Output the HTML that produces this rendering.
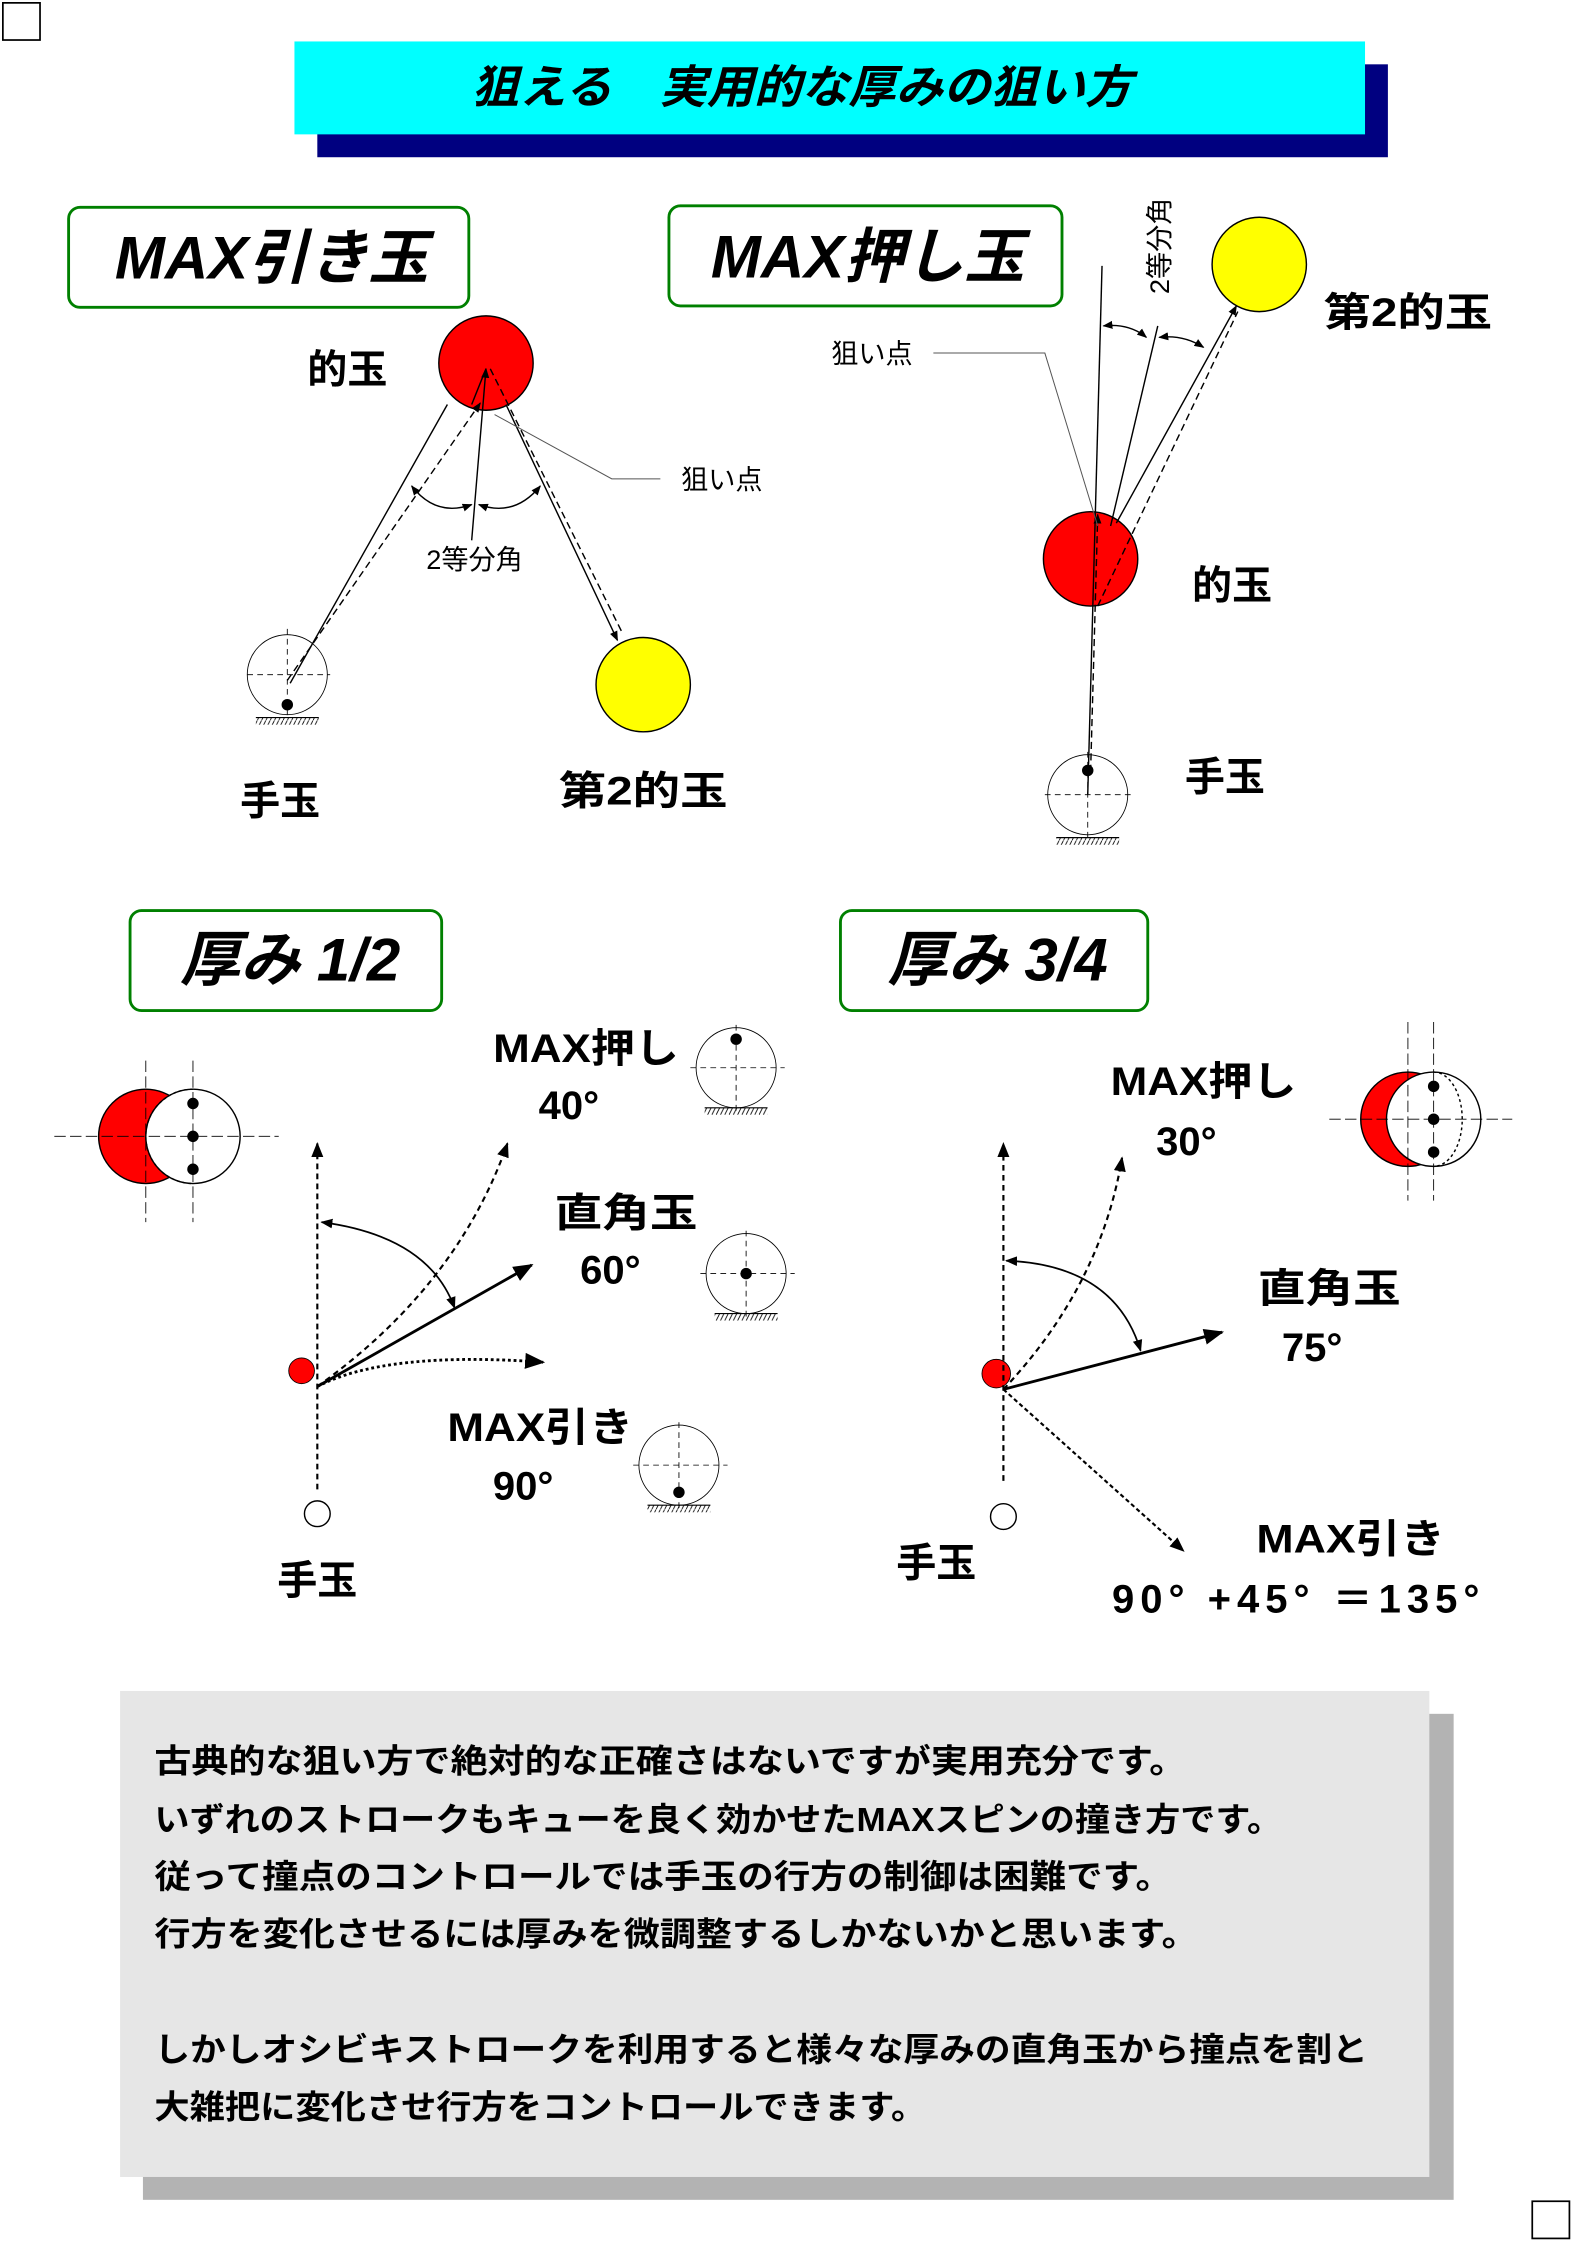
<!DOCTYPE html>
<html><head><meta charset="utf-8"><style>
html,body{margin:0;padding:0;background:#fff}
svg{display:block}
text{font-family:"Liberation Sans","Noto Sans CJK JP",sans-serif}
.b{font-weight:bold}
</style></head><body>
<svg width="1578" height="2247" viewBox="0 0 1104 1572" preserveAspectRatio="none" xmlns="http://www.w3.org/2000/svg">
<defs>
<marker id="a" viewBox="0 0 10 10" refX="9" refY="5" markerWidth="7" markerHeight="7" orient="auto-start-reverse"><path d="M0,1 L10,5 L0,9 z" fill="#000"/></marker>
<pattern id="h" width="3" height="6" patternUnits="userSpaceOnUse"><path d="M0,6 L3,0" stroke="#000" stroke-width="0.6"/></pattern>
</defs>
<rect x="2" y="2" width="26" height="26" fill="none" stroke="#000" stroke-width="1.2"/>
<rect x="1072" y="1540" width="26" height="26" fill="none" stroke="#000" stroke-width="1.2"/>
<!-- title -->
<rect x="222" y="45" width="749" height="65" fill="#000080"/>
<rect x="206" y="29" width="749" height="65" fill="#00ffff"/>
<text x="330" y="72" font-size="32" class="b" font-style="italic" textLength="462" lengthAdjust="spacingAndGlyphs">狙える　実用的な厚みの狙い方</text>
<!-- boxes -->
<rect x="48" y="145" width="280" height="70" rx="8" fill="#fff" stroke="#008000" stroke-width="2"/>
<text x="190" y="195" font-size="42" class="b" font-style="italic" text-anchor="middle">MAX引き玉</text>
<rect x="468" y="144" width="275" height="70" rx="8" fill="#fff" stroke="#008000" stroke-width="2"/>
<text x="607" y="194" font-size="42" class="b" font-style="italic" text-anchor="middle">MAX押し玉</text>
<rect x="91" y="637" width="218" height="70" rx="8" fill="#fff" stroke="#008000" stroke-width="2"/>
<text x="203" y="686" font-size="42" class="b" font-style="italic" text-anchor="middle">厚み 1/2</text>
<rect x="588" y="637" width="215" height="70" rx="8" fill="#fff" stroke="#008000" stroke-width="2"/>
<text x="698" y="686" font-size="42" class="b" font-style="italic" text-anchor="middle">厚み 3/4</text>

<!-- left diagram -->
<circle cx="340" cy="254" r="33" fill="#f00" stroke="#000"/>
<circle cx="450" cy="479" r="33" fill="#ff0" stroke="#000"/>
<circle cx="201" cy="472" r="28" fill="none" stroke="#000" stroke-width="0.6"/>
<path d="M173,472 H231 M201,440 V503" stroke="#000" stroke-width="0.6" stroke-dasharray="4,3"/>
<circle cx="201" cy="493" r="4" fill="#000"/>
<rect x="179" y="502" width="44" height="5" fill="url(#h)"/><line x1="179" y1="502" x2="223" y2="502" stroke="#000" stroke-width="0.8"/>
<g stroke="#000" fill="none" stroke-width="1">
<line x1="203" y1="478" x2="313" y2="283"/>
<line x1="201" y1="476" x2="336" y2="282" stroke-dasharray="5,3" marker-end="url(#a)"/>
<line x1="354" y1="283" x2="432" y2="448" marker-end="url(#a)"/>
<line x1="343" y1="258" x2="436" y2="444" stroke-dasharray="5,3"/>
<line x1="330" y1="378" x2="340" y2="258" marker-end="url(#a)"/>
<line x1="340" y1="258" x2="330" y2="283"/>
<path d="M288,340 Q305,362 330,353" marker-start="url(#a)" marker-end="url(#a)"/>
<path d="M335,353 Q360,362 378,340" marker-start="url(#a)" marker-end="url(#a)"/>
<polyline points="346,290 428,335 462,335" stroke-width="0.7" stroke="#555"/>
</g>
<text x="243" y="268" font-size="28" class="b" text-anchor="middle">的玉</text>
<text x="196" y="570" font-size="28" class="b" text-anchor="middle">手玉</text>
<text x="450" y="563" font-size="28" class="b" text-anchor="middle" textLength="118" lengthAdjust="spacingAndGlyphs">第2的玉</text>
<text x="505" y="342" font-size="19" text-anchor="middle">狙い点</text>
<text x="332" y="398" font-size="19" text-anchor="middle">2等分角</text>

<!-- right diagram -->
<circle cx="763" cy="391" r="33" fill="#f00" stroke="#000"/>
<circle cx="881" cy="185" r="33" fill="#ff0" stroke="#000"/>
<circle cx="761" cy="556" r="28" fill="none" stroke="#000" stroke-width="0.6"/>
<path d="M731,556 H793 M761,526 V588" stroke="#000" stroke-width="0.6" stroke-dasharray="4,3"/>
<circle cx="761" cy="539" r="4" fill="#000"/>
<rect x="739" y="586" width="44" height="5" fill="url(#h)"/><line x1="739" y1="586" x2="783" y2="586" stroke="#000" stroke-width="0.8"/>
<g stroke="#000" fill="none" stroke-width="1">
<line x1="761" y1="556" x2="771" y2="186"/>
<line x1="777" y1="368" x2="810" y2="228"/>
<line x1="781" y1="366" x2="865" y2="214" marker-end="url(#a)"/>
<line x1="763" y1="540" x2="768" y2="360" stroke-dasharray="5,3" marker-end="url(#a)"/>
<line x1="768" y1="424" x2="866" y2="218" stroke-dasharray="5,3"/>
<path d="M772,228 Q790,226 802,236" marker-start="url(#a)" marker-end="url(#a)"/>
<path d="M811,236 Q828,234 842,243" marker-start="url(#a)" marker-end="url(#a)"/>
<polyline points="653,247 731,247 768,368" stroke-width="0.7" stroke="#555"/>
</g>
<text x="610" y="254" font-size="19" text-anchor="middle">狙い点</text>
<text transform="translate(818,172) rotate(-90)" font-size="19" text-anchor="middle">2等分角</text>
<text x="985" y="228" font-size="28" class="b" text-anchor="middle" textLength="118" lengthAdjust="spacingAndGlyphs">第2的玉</text>
<text x="862" y="419" font-size="28" class="b" text-anchor="middle">的玉</text>
<text x="857" y="553" font-size="28" class="b" text-anchor="middle">手玉</text>

<!-- bottom-left -->
<circle cx="102" cy="795" r="33" fill="#f00" stroke="#000"/>
<circle cx="135" cy="795" r="33" fill="#fff" stroke="#000"/>
<path d="M135,762 A33,33 0 0 0 135,828" fill="none" stroke="#000" stroke-dasharray="2,2"/>
<path d="M38,795 H195 M102,742 V855 M135,742 V855" stroke="#000" stroke-width="0.6" stroke-dasharray="8,3"/>
<circle cx="135" cy="772" r="4" fill="#000"/><circle cx="135" cy="795" r="4" fill="#000"/><circle cx="135" cy="818" r="4" fill="#000"/>
<circle cx="211" cy="959" r="9" fill="#f00" stroke="#000" stroke-width="0.6"/>
<circle cx="222" cy="1059" r="9" fill="#fff" stroke="#000"/>
<g stroke="#000" fill="none">
<line x1="222" y1="1042" x2="222" y2="800" stroke-dasharray="4,3" stroke-width="1.5" marker-end="url(#a)"/>
<path d="M222,970 Q320,900 355,800" stroke-dasharray="4,3" stroke-width="1.5" marker-end="url(#a)"/>
<line x1="222" y1="970" x2="372" y2="885" stroke-width="2" marker-end="url(#a)"/>
<path d="M222,970 Q270,945 380,953" stroke-dasharray="2,2" stroke-width="2" marker-end="url(#a)"/>
<path d="M225,855 Q300,865 318,915" stroke-width="1.2" marker-start="url(#a)" marker-end="url(#a)"/>
</g>
<text x="410" y="743" font-size="28" class="b" text-anchor="middle" textLength="130" lengthAdjust="spacingAndGlyphs">MAX押し</text>
<text x="398" y="783" font-size="28" class="b" text-anchor="middle">40°</text>
<text x="438" y="858" font-size="28" class="b" text-anchor="middle" textLength="100" lengthAdjust="spacingAndGlyphs">直角玉</text>
<text x="427" y="898" font-size="28" class="b" text-anchor="middle">60°</text>
<text x="378" y="1008" font-size="28" class="b" text-anchor="middle" textLength="130" lengthAdjust="spacingAndGlyphs">MAX引き</text>
<text x="366" y="1049" font-size="28" class="b" text-anchor="middle">90°</text>
<text x="222" y="1115" font-size="28" class="b" text-anchor="middle">手玉</text>
<!-- icons -->
<g stroke="#000" stroke-width="0.6" fill="none">
<circle cx="515" cy="747" r="28"/><path d="M483,747 H549 M515,717 V777" stroke-dasharray="4,3"/>
<circle cx="522" cy="891" r="28"/><path d="M490,891 H556 M522,861 V921" stroke-dasharray="4,3"/>
<circle cx="475" cy="1025" r="28"/><path d="M443,1025 H509 M475,995 V1055" stroke-dasharray="4,3"/>
</g>
<circle cx="515" cy="727" r="4"/><circle cx="522" cy="891" r="4"/><circle cx="475" cy="1044" r="4"/>
<rect x="493" y="775" width="44" height="5" fill="url(#h)"/><line x1="493" y1="775" x2="537" y2="775" stroke="#000" stroke-width="0.8"/>
<rect x="500" y="919" width="44" height="5" fill="url(#h)"/><line x1="500" y1="919" x2="544" y2="919" stroke="#000" stroke-width="0.8"/>
<rect x="453" y="1053" width="44" height="5" fill="url(#h)"/><line x1="453" y1="1053" x2="497" y2="1053" stroke="#000" stroke-width="0.8"/>

<!-- bottom-right -->
<circle cx="985" cy="783" r="33" fill="#f00" stroke="#000"/>
<circle cx="1003" cy="783" r="33" fill="#fff" stroke="#000"/>
<path d="M1003,750 A20,33 0 0 1 1003,816" fill="none" stroke="#000" stroke-dasharray="2,2"/>
<path d="M930,783 H1058 M985,715 V840 M1003,715 V840" stroke="#000" stroke-width="0.6" stroke-dasharray="8,3"/>
<circle cx="1003" cy="760" r="4"/><circle cx="1003" cy="783" r="4"/><circle cx="1003" cy="806" r="4"/>
<circle cx="697" cy="961" r="10" fill="#f00" stroke="#000" stroke-width="0.6"/>
<circle cx="702" cy="1061" r="9" fill="#fff" stroke="#000"/>
<g stroke="#000" fill="none">
<line x1="702" y1="1036" x2="702" y2="800" stroke-dasharray="4,3" stroke-width="1.5" marker-end="url(#a)"/>
<path d="M702,972 Q770,900 785,810" stroke-dasharray="4,3" stroke-width="1.5" marker-end="url(#a)"/>
<line x1="702" y1="972" x2="855" y2="932" stroke-width="2" marker-end="url(#a)"/>
<line x1="702" y1="972" x2="828" y2="1085" stroke-dasharray="3,2" stroke-width="1.5" marker-end="url(#a)"/>
<path d="M704,882 Q780,885 798,945" stroke-width="1.2" marker-start="url(#a)" marker-end="url(#a)"/>
</g>
<text x="842" y="766" font-size="28" class="b" text-anchor="middle" textLength="130" lengthAdjust="spacingAndGlyphs">MAX押し</text>
<text x="830" y="808" font-size="28" class="b" text-anchor="middle">30°</text>
<text x="930" y="911" font-size="28" class="b" text-anchor="middle" textLength="100" lengthAdjust="spacingAndGlyphs">直角玉</text>
<text x="918" y="952" font-size="28" class="b" text-anchor="middle">75°</text>
<text x="655" y="1103" font-size="28" class="b" text-anchor="middle">手玉</text>
<text x="945" y="1086" font-size="28" class="b" text-anchor="middle" textLength="132" lengthAdjust="spacingAndGlyphs">MAX引き</text>
<text x="778" y="1128" font-size="28" class="b" textLength="257" lengthAdjust="spacing">90°  +45°  ＝135°</text>

<!-- text box -->
<rect x="100" y="1199" width="917" height="340" fill="#b3b3b3"/>
<rect x="84" y="1183" width="916" height="340" fill="#e6e6e6"/>
<g font-size="23" class="b">
<text x="108" y="1240" textLength="722" lengthAdjust="spacingAndGlyphs">古典的な狙い方で絶対的な正確さはないですが実用充分です。</text>
<text x="108" y="1281" textLength="789" lengthAdjust="spacingAndGlyphs">いずれのストロークもキューを良く効かせたMAXスピンの撞き方です。</text>
<text x="108" y="1321" textLength="712" lengthAdjust="spacingAndGlyphs">従って撞点のコントロールでは手玉の行方の制御は困難です。</text>
<text x="108" y="1361" textLength="730" lengthAdjust="spacingAndGlyphs">行方を変化させるには厚みを微調整するしかないかと思います。</text>
<text x="108" y="1442" textLength="849" lengthAdjust="spacingAndGlyphs">しかしオシビキストロークを利用すると様々な厚みの直角玉から撞点を割と</text>
<text x="108" y="1482" textLength="540" lengthAdjust="spacingAndGlyphs">大雑把に変化させ行方をコントロールできます。</text>
</g>
</svg>
</body></html>
